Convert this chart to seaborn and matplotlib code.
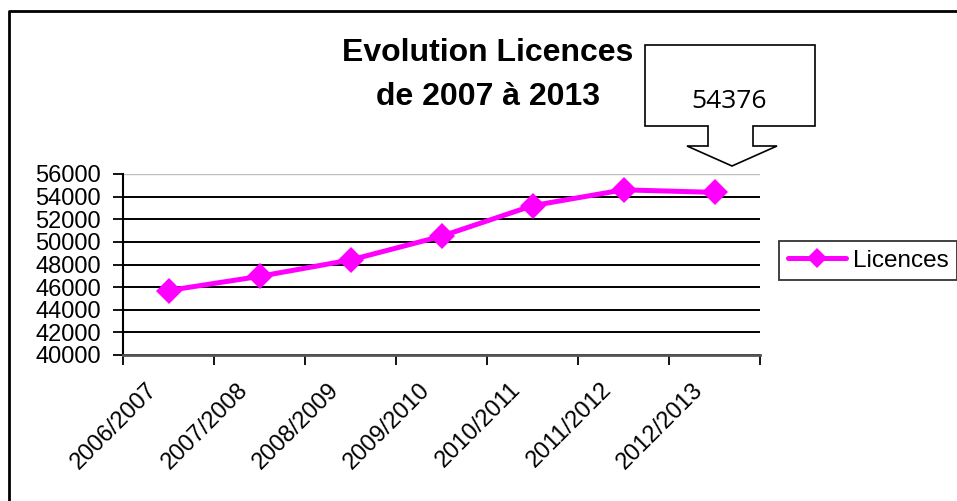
import matplotlib
matplotlib.use("Agg")
import matplotlib.pyplot as plt
from matplotlib.patches import Polygon
from matplotlib.lines import Line2D
from matplotlib.transforms import ScaledTranslation
import seaborn as sns
import pandas as pd

# data
saisons = ['2006/2007', '2007/2008', '2008/2009', '2009/2010',
           '2010/2011', '2011/2012', '2012/2013']
licences = [45700, 46950, 48400, 50500, 53200, 54600, 54376]
y_ticks = list(range(40000, 56001, 2000))

df = pd.DataFrame({'saison': saisons, 'licences': licences})

sns.set_style('white')
plt.rcParams['font.family'] = ['Liberation Sans', 'DejaVu Sans']
plt.rcParams['text.color'] = 'black'
plt.rcParams['xtick.color'] = 'black'
plt.rcParams['ytick.color'] = 'black'
plt.rcParams['axes.labelcolor'] = 'black'

W, H = 957, 501
fig = plt.figure(figsize=(W / 100, H / 100), dpi=100)
ax = fig.add_axes([123 / W, 1 - 355 / H, (760 - 123) / W, (355 - 174) / H])

sns.lineplot(data=df, x='saison', y='licences', ax=ax, sort=False,
             color='#FF00FF', linewidth=3.6, marker='D', markersize=13,
             markeredgewidth=0, label='Licences')

# axes like the excel chart
ax.set_xlim(-0.5, len(saisons) - 0.5)
ax.set_ylim(y_ticks[0], y_ticks[-1])
ax.set_yticks(y_ticks)
ax.set_yticklabels([str(v) for v in y_ticks])
ax.set_xticks(range(len(saisons)))
ax.set_xticklabels(saisons, rotation=45, ha='right', va='top')
ax.set_xticks([i - 0.5 for i in range(len(saisons) + 1)], minor=True)
ax.tick_params(axis='x', which='major', length=0, pad=17, labelsize=17)
ax.tick_params(axis='x', which='minor', length=7, width=1.3, color='black',
               direction='out', bottom=True)
ax.tick_params(axis='y', length=7, width=1.3, color='black', direction='out',
               left=True, pad=9, labelsize=17)
ax.set_xlabel(None)
ax.set_ylabel(None)
# excel puts the rotated labels a bit left of the category centre
shift = ScaledTranslation(-7 / 100, 0, fig.dpi_scale_trans)
for lab in ax.get_xticklabels():
    lab.set_transform(lab.get_transform() + shift)

ax.yaxis.grid(True, color='black', linewidth=1.4)
ax.set_axisbelow(True)
grid = ax.get_ygridlines()
grid[-1].set_color('#c0c0c0')
grid[-1].set_linewidth(1.0)

for side in ['top', 'right']:
    ax.spines[side].set_visible(False)
ax.spines['left'].set_color('black')
ax.spines['left'].set_linewidth(1.5)
ax.spines['bottom'].set_color('#555555')
ax.spines['bottom'].set_linewidth(2)

leg = ax.legend(loc='upper left', bbox_to_anchor=(779 / W, 1 - 241 / H),
                bbox_transform=fig.transFigure, borderaxespad=0,
                fontsize=17.5, frameon=True, fancybox=False, borderpad=0.35,
                handlelength=2.4, handletextpad=0.3, markerscale=0.75)
leg.get_frame().set_edgecolor('black')
leg.get_frame().set_linewidth(1.3)

# title
fig.suptitle('Evolution Licences\nde 2007 à 2013', x=488 / W, y=1 - 75 / H,
             va='center', ha='center', fontsize=23, fontweight='bold',
             color='black', linespacing=1.6)

# callout arrow with last value
pts = [(645, 45), (815, 45), (815, 126), (753, 126), (753, 146), (777, 146),
       (732, 166), (687, 146), (708, 146), (708, 126), (645, 126)]
fig.add_artist(Polygon([(x / W, 1 - y / H) for x, y in pts], closed=True,
                       facecolor='white', edgecolor='black', linewidth=1.2,
                       transform=fig.transFigure))
fig.text(729 / W, 1 - 101 / H, str(licences[-1]), ha='center', va='center',
         fontsize=19, family=['Open Sans', 'DejaVu Sans'])

# outer chart border (top and left only visible)
fig.add_artist(Line2D([9 / W, 9 / W, 1], [0, 1 - 11 / H, 1 - 11 / H],
                      color='black', linewidth=2, transform=fig.transFigure))

fig.savefig('out.png', dpi=100)
